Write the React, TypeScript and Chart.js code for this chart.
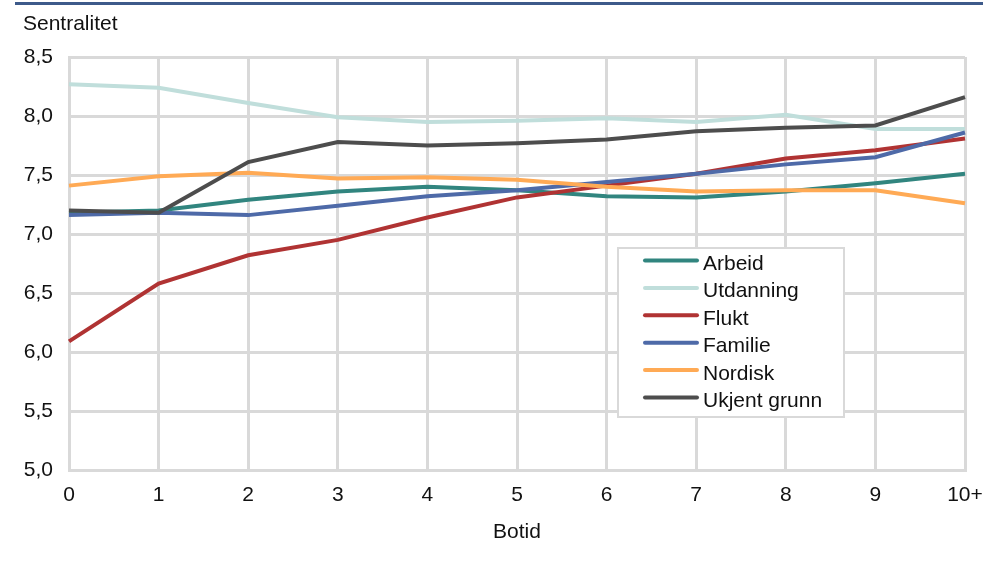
import React, { useEffect, useRef } from "react";
import { Chart, registerables } from "chart.js";

Chart.register(...registerables);

const categories = ["0", "1", "2", "3", "4", "5", "6", "7", "8", "9", "10+"];
const seriesNames = ["Arbeid", "Utdanning", "Flukt", "Familie", "Nordisk", "Ukjent grunn"];
const arbeid = [7.18, 7.2, 7.29, 7.36, 7.4, 7.37, 7.32, 7.31, 7.36, 7.43, 7.51];
const utdanning = [8.27, 8.24, 8.11, 7.99, 7.95, 7.96, 7.98, 7.95, 8.01, 7.89, 7.89];
const flukt = [6.09, 6.58, 6.82, 6.95, 7.14, 7.31, 7.41, 7.51, 7.64, 7.71, 7.81];
const familie = [7.16, 7.18, 7.16, 7.24, 7.32, 7.37, 7.44, 7.51, 7.59, 7.65, 7.86];
const nordisk = [7.41, 7.49, 7.52, 7.47, 7.48, 7.46, 7.4, 7.36, 7.37, 7.37, 7.26];
const ukjent = [7.2, 7.18, 7.61, 7.78, 7.75, 7.77, 7.8, 7.87, 7.9, 7.92, 8.16];
const colors = ["#31857f", "#c0dedb", "#b03333", "#4e6aa8", "#ffaa55", "#4d4d4d"];
const yTitle = "Sentralitet";
const xTitle = "Botid";

const FONT = "'Liberation Sans', Arial, sans-serif";
const FS = 21;

const overlayPlugin = {
  id: "overlay",
  afterDraw(chart: any) {
    const ctx = chart.ctx;
    ctx.save();
    // top rule
    ctx.strokeStyle = "#3d5a8a";
    ctx.lineWidth = 3;
    ctx.beginPath();
    ctx.moveTo(15, 3.5);
    ctx.lineTo(983, 3.5);
    ctx.stroke();
    // y title
    ctx.fillStyle = "#111111";
    ctx.font = `${FS}px ${FONT}`;
    ctx.textBaseline = "alphabetic";
    ctx.textAlign = "left";
    ctx.fillText(yTitle, 23, 30);
    // legend
    const bx = 618, by = 248, bw = 226, bh = 169;
    ctx.fillStyle = "#ffffff";
    ctx.fillRect(bx, by, bw, bh);
    ctx.strokeStyle = "#d9d9d9";
    ctx.lineWidth = 2;
    ctx.strokeRect(bx, by, bw, bh);
    seriesNames.forEach((name, i) => {
      const y = 260.5 + i * 27.4;
      ctx.strokeStyle = colors[i];
      ctx.lineWidth = 4;
      ctx.lineCap = "round";
      ctx.beginPath();
      ctx.moveTo(645, y);
      ctx.lineTo(697, y);
      ctx.stroke();
      ctx.fillStyle = "#111111";
      ctx.font = `${FS}px ${FONT}`;
      ctx.textAlign = "left";
      ctx.textBaseline = "alphabetic";
      ctx.fillText(name, 703, y + 9.5);
    });
    ctx.restore();
  },
};

export default function App() {
  const ref = useRef<HTMLCanvasElement>(null);
  useEffect(() => {
    document.body.style.margin = "0";
    const sets = [arbeid, utdanning, flukt, familie, nordisk, ukjent];
    const chart = new Chart(ref.current as HTMLCanvasElement, {
      type: "line",
      data: {
        labels: categories,
        datasets: sets.map((d, i) => ({
          label: seriesNames[i],
          data: d,
          borderColor: colors[i],
          backgroundColor: colors[i],
          borderWidth: 4,
          pointRadius: 0,
          tension: 0,
          order: 6 - i,
        })),
      },
      options: {
        animation: false,
        responsive: false,
        maintainAspectRatio: false,
        layout: { padding: { top: 57, right: 18, left: 0, bottom: 0 } },
        plugins: { legend: { display: false }, tooltip: { enabled: false } },
        scales: {
          x: {
            offset: false,
            grid: { color: "#d9d9d9", lineWidth: 3, drawTicks: false },
            border: { color: "#d9d9d9", width: 3 },
            ticks: { color: "#111111", font: { family: FONT, size: FS }, padding: 13, maxRotation: 0 },
            title: {
              display: true,
              text: xTitle,
              color: "#111111",
              font: { family: FONT, size: FS },
              padding: { top: 0, bottom: 20 },
            },
            afterFit: (s: any) => {
              s.height = 95;
              s.paddingRight = 18;
              s.paddingLeft = 0;
            },
          },
          y: {
            min: 5,
            max: 8.5,
            grid: { color: "#d9d9d9", lineWidth: 3, drawTicks: false },
            border: { color: "#d9d9d9", width: 3 },
            ticks: {
              stepSize: 0.5,
              color: "#111111",
              font: { family: FONT, size: FS },
              padding: 16,
              callback: (v: any) => Number(v).toFixed(1).replace(".", ","),
            },
            afterFit: (s: any) => {
              s.width = 69;
            },
          },
        },
      },
      plugins: [overlayPlugin],
    });
    return () => chart.destroy();
  }, []);
  return (
    <div style={{ width: 983, height: 565 }}>
      <canvas ref={ref} width={983} height={565} style={{ display: "block" }} />
    </div>
  );
}
